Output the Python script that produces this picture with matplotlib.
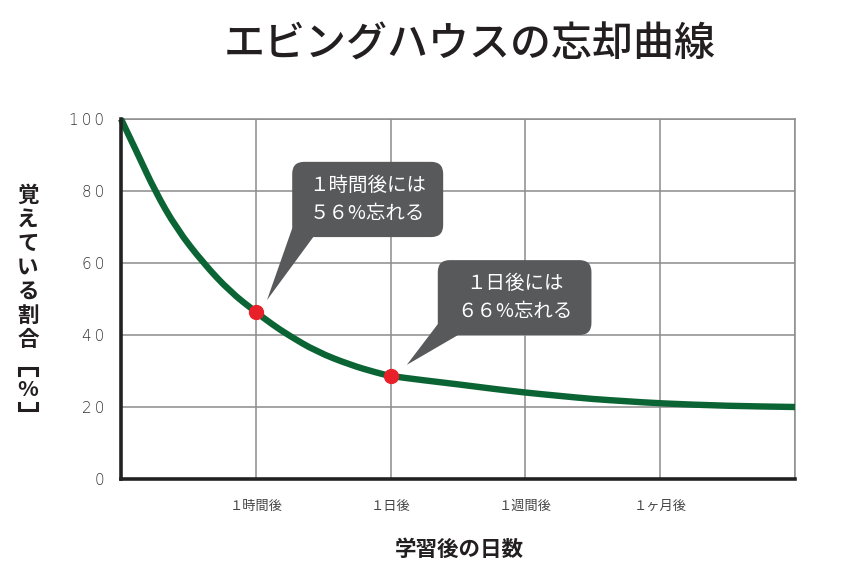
import matplotlib.pyplot as plt
from matplotlib.patches import FancyBboxPatch, Polygon, PathPatch
from matplotlib.path import Path
from matplotlib.lines import Line2D

plt.rcParams['font.family'] = ['Noto Sans CJK JP', 'DejaVu Sans']

# 経過（目盛り位置）と記憶の割合 [%]
elapsed = [0, 0.128, 0.252, 0.413, 0.61, 0.81, 1.0, 1.12, 1.24, 1.45, 1.7, 1.9, 2.0,
           2.25, 2.5, 2.75, 3.0, 3.25, 3.5, 3.75, 4.0, 4.5, 5.0]
retention = [100, 90, 80, 69.5, 60, 52, 46.4, 43.0, 40, 35.4, 31.7, 29.5, 28.6,
             27.4, 26.3, 25.1, 24.0, 23.1, 22.2, 21.6, 21.0, 20.3, 20.0]

# 吹き出しの点
mark_x = [1, 2]
mark_y = [46.4, 28.6]
callouts = ['１時間後には\n５６%忘れる', '１日後には\n６６%忘れる']

xtick_labels = ['１時間後', '１日後', '１週間後', '１ヶ月後']
ytick_pos = [0, 20, 40, 60, 80, 100]

fig = plt.figure(figsize=(8.43, 5.78), dpi=100)
ax = fig.add_axes([121/843, 1-479/578, (795-121)/843, (479-119)/578])

ax.set_xlim(0, 5)
ax.set_ylim(0, 100)

ax.set_xticks([1, 2, 3, 4, 5])
ax.set_xticklabels(xtick_labels + [''], fontsize=9.5, color='#444444')
ax.set_yticks(ytick_pos)
ax.set_yticklabels(['\u2009'.join(str(v)) for v in ytick_pos], fontsize=11,
                   color='#333333', family='DejaVu Sans', fontweight='light')
ax.tick_params(length=0, pad=12)
ax.tick_params(axis='x', pad=15)
ax.grid(True, color='#8c8c8c', linewidth=1.1)
ax.set_axisbelow(True)

for s in ['left', 'bottom']:
    ax.spines[s].set_color('#222222')
    ax.spines[s].set_linewidth(2.6)
    ax.spines[s].set_zorder(5)
for s in ['top', 'right']:
    ax.spines[s].set_color('#8c8c8c')
    ax.spines[s].set_linewidth(1.1)

# 曲線：読み取った点を制御点にして二次ベジェでなめらかに描く
pts = list(zip(elapsed, retention))
verts = [pts[0]]
codes = [Path.MOVETO]
for i in range(1, len(pts) - 1):
    mid = ((pts[i][0] + pts[i + 1][0]) / 2, (pts[i][1] + pts[i + 1][1]) / 2)
    verts += [pts[i], mid]
    codes += [Path.CURVE3, Path.CURVE3]
verts.append(pts[-1])
codes.append(Path.LINETO)
curve = PathPatch(Path(verts, codes), facecolor='none', edgecolor='#0b6434',
                  linewidth=4.6, capstyle='butt', joinstyle='round',
                  clip_on=False, zorder=3)
ax.add_patch(curve)
ax.plot(mark_x, mark_y, 'o', color='#e8202a', markersize=10, zorder=6)

# 吹き出し（データ座標、角丸はアスペクト補正）
px_x = 674/5
px_y = 360/100
r = 12
boxes = [((1.27, 67.2), (2.39, 88.1), (1.083, 49.7)),
         ((2.35, 40.0), (3.49, 60.8), (2.12, 31.7))]
for ((x0, y0), (x1, y1), tip), label in zip(boxes, callouts):
    box = FancyBboxPatch((x0, y0), x1 - x0, y1 - y0,
                         boxstyle=f'round,pad=0,rounding_size={r/px_x}',
                         mutation_aspect=px_x/px_y,
                         facecolor='#58595b', edgecolor='none', zorder=7)
    ax.add_patch(box)
    tail = Polygon([(x0 + 0.01, y0 + 3.5), (x0 + 0.16, y0 + 0.2), tip],
                   closed=True, facecolor='#58595b', edgecolor='none', zorder=7)
    ax.add_patch(tail)
    ax.text((x0 + x1) / 2, (y0 + y1) / 2, label, color='white', fontsize=14,
            ha='center', va='center', linespacing=1.45, zorder=8)

fig.text(470/843, 1-45/578, 'エビングハウスの忘却曲線', fontsize=29.5,
         fontweight='medium', color='#231f20', ha='center', va='center')
fig.text(459/843, 1-549/578, '学習後の日数', fontsize=15.5,
         fontweight='bold', color='#231f20', ha='center', va='center')

# 縦書きのY軸ラベル
ylab_chars = ['覚', 'え', 'て', 'い', 'る', '割', '合', '%']
ylab_rows = [195, 219, 243, 267, 291, 315, 339, 389]
for ch, py in zip(ylab_chars, ylab_rows):
    fig.text(28/843, 1-py/578, ch, fontsize=15.5, fontweight='bold',
             color='#231f20', ha='center', va='center')
# 縦書きの角括弧
for yb, leg in [(368, 7), (410, -7)]:
    fig.add_artist(Line2D([19/843, 19/843, 37/843, 37/843],
                          [1-(yb+leg)/578, 1-yb/578, 1-yb/578, 1-(yb+leg)/578],
                          color='#231f20', linewidth=2.2,
                          solid_joinstyle='miter', transform=fig.transFigure))

fig.savefig('out.png', dpi=100)
